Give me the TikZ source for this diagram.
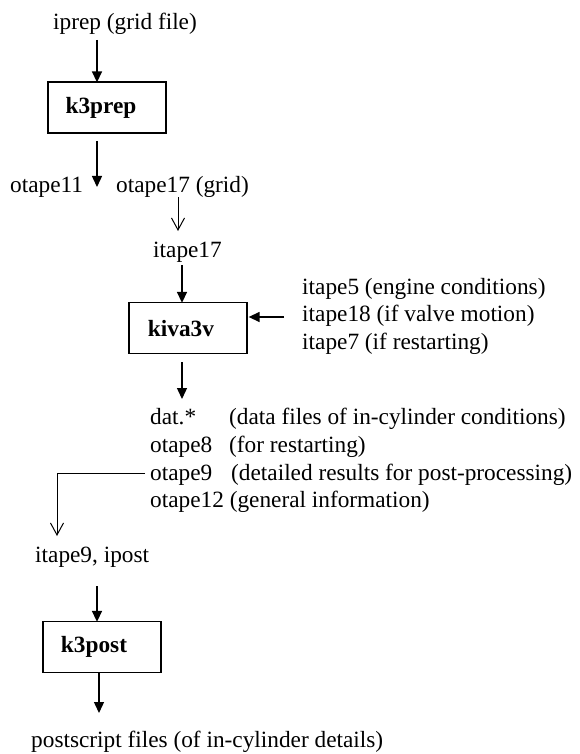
\documentclass[tikz,border=0pt]{standalone}
\usepackage{fontspec}
\setmainfont{Liberation Serif}
\usetikzlibrary{arrows.meta}
\begin{document}
\begin{tikzpicture}[x=1pt,y=-1pt,
  txt/.style={anchor=base west,inner sep=0pt,font=\fontsize{23.3}{28}\selectfont},
  prog/.style={draw,line width=1.3pt,minimum width=118pt,minimum height=51pt,inner sep=0pt},
  progtxt/.style={font=\fontsize{23.3}{28}\selectfont\bfseries},
  fa/.style={line width=1.4pt,-{Triangle[length=11pt,width=10pt]}},
  oa/.style={line width=1pt,-{Straight Barb[length=12pt,width=13pt]}}]
\useasboundingbox (0,0) rectangle (579,754);
% top
\node[txt] (iprep) at (53,30) {iprep (grid file)};
\node[prog] (k3prep) at (107,107.5) {};
\node[progtxt] (k3preptxt) at (101,108) {k3prep};
\node[txt] (o11) at (10,193) {otape11};
\node[txt] (o17) at (116,193) {otape17 (grid)};
\node[txt] (i17) at (153,257) {itape17};
\coordinate (a1s) at (97,40);
\coordinate (a2s) at (97,141);
\coordinate (a2e) at (97,187);
\coordinate (a3s) at (178,197);
\coordinate (a3e) at (178,231);
\draw[fa] (a1s) -- ([yshift=-1pt]k3prep.north -| a1s);
\draw[fa] (a2s) -- (a2e);
\draw[oa] (a3s) -- (a3e);
% kiva3v
\node[prog] (kiva) at (188,328) {};
\node[progtxt] (kivatxt) at (181,329) {kiva3v};
\coordinate (a4s) at (182,265);
\draw[fa] (a4s) -- ([yshift=-1pt]kiva.north -| a4s);
\node[txt] (i5) at (302,294) {itape5 (engine conditions)};
\node[txt] (i18) at (302,321) {itape18 (if valve motion)};
\node[txt] (i7) at (302,349) {itape7 (if restarting)};
\coordinate (a5s) at (284,317);
\draw[fa] (a5s) -- ([xshift=1pt]kiva.east |- a5s);
\coordinate (a6s) at (182,362);
\coordinate (a6e) at (182,399);
\draw[fa] (a6s) -- (a6e);
% outputs
\node[txt] (dat) at (150,424) {dat.*};
\node[txt] (datd) at (229,424) {(data files of in-cylinder conditions)};
\node[txt] (o8) at (150,452) {otape8};
\node[txt] (o8d) at (229,452) {(for restarting)};
\node[txt] (o9) at (150,480) {otape9};
\node[txt] (o9d) at (231,480) {(detailed results for post-processing)};
\node[txt] (o12) at (150,507) {otape12 (general information)};
\coordinate (b1) at (145,473);
\coordinate (b2) at (57,473);
\coordinate (b3) at (57,536);
\draw[oa] (b1) -- (b2) -- (b3);
% post
\node[txt] (i9) at (35,562) {itape9, ipost};
\node[prog] (k3post) at (102,647) {};
\node[progtxt] (k3posttxt) at (94,647) {k3post};
\coordinate (a7s) at (97,586);
\draw[fa] (a7s) -- ([yshift=-1pt]k3post.north -| a7s);
\coordinate (a8s) at (99,673);
\coordinate (a8e) at (99,713);
\draw[fa] (a8s) -- (a8e);
\node[txt] (ps) at (31,747) {postscript files (of in-cylinder details)};
\end{tikzpicture}
\end{document}
